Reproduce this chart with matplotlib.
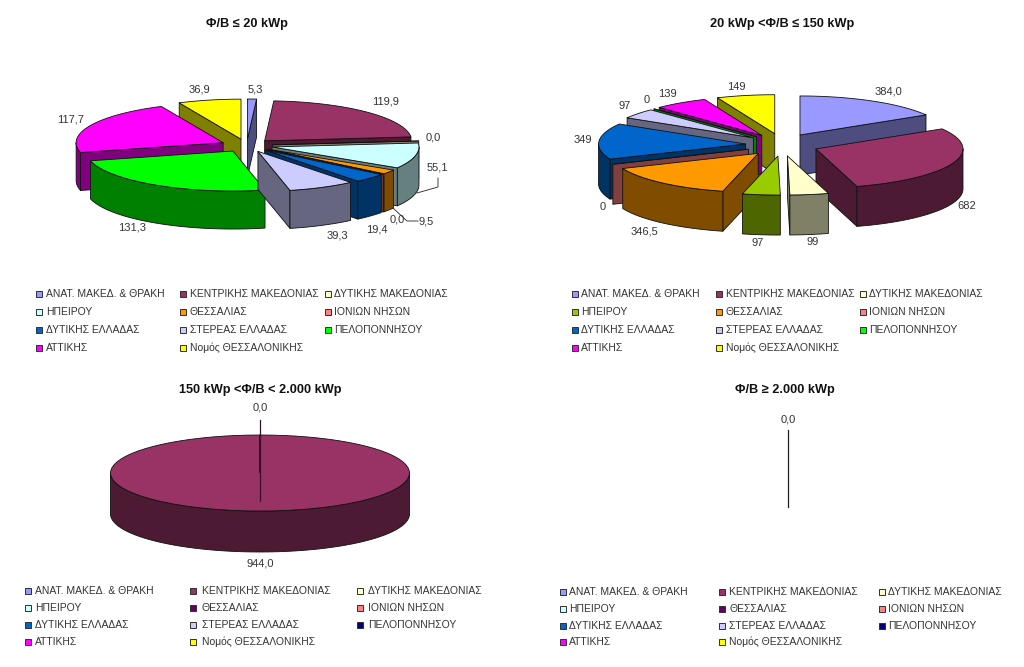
"""
Four exploded 3D pies of PV capacity per region, drawn on one pixel-sized axes
"""

import numpy as np
import matplotlib
matplotlib.use("Agg")
import matplotlib.pyplot as plt
from matplotlib.patches import Polygon

plt.rcParams['font.family'] = ['Liberation Sans', 'DejaVu Sans']

REGIONS = ["ΑΝΑΤ. ΜΑΚΕΔ. & ΘΡΑΚΗ", "ΚΕΝΤΡΙΚΗΣ ΜΑΚΕΔΟΝΙΑΣ", "ΔΥΤΙΚΗΣ ΜΑΚΕΔΟΝΙΑΣ",
           "ΗΠΕΙΡΟΥ", "ΘΕΣΣΑΛΙΑΣ", "ΙΟΝΙΩΝ ΝΗΣΩΝ",
           "ΔΥΤΙΚΗΣ ΕΛΛΑΔΑΣ", "ΣΤΕΡΕΑΣ ΕΛΛΑΔΑΣ", "ΠΕΛΟΠΟΝΝΗΣΟΥ",
           "ΑΤΤΙΚΗΣ", "Νομός ΘΕΣΣΑΛΟΝΙΚΗΣ"]

values_small = [5.3, 119.9, 0.0, 55.1, 9.5, 0.0, 19.4, 39.3, 131.3, 117.7, 36.9]
values_medium = [384.0, 682, 99, 97, 346.5, 0, 349, 97, 0, 139, 149]
values_large = [0, 944.0, 0, 0, 0, 0, 0, 0, 0, 0, 0]
values_huge = [0, 0, 0, 0, 0, 0, 0, 0, 0, 0, 0]

colors_small = ["#9999FF", "#993366", "#FFFFCC", "#CCFFFF", "#FF9900", "#FF8080",
                "#0066CC", "#CCCCFF", "#00FF00", "#FF00FF", "#FFFF00"]
colors_medium = ["#9999FF", "#993366", "#FFFFCC", "#99CC00", "#FF9900", "#FF8080",
                 "#0066CC", "#CCCCFF", "#00FF00", "#FF00FF", "#FFFF00"]
colors_large = ["#9999FF", "#993366", "#FFFFCC", "#CCFFFF", "#660066", "#FF8080",
                "#0066CC", "#CCCCFF", "#000080", "#FF00FF", "#FFFF00"]

titles = ["Φ/Β ≤ 20 kWp", "20 kWp <Φ/Β ≤ 150 kWp",
          "150 kWp <Φ/Β < 2.000 kWp", "Φ/Β ≥ 2.000 kWp"]

labels_small = [("36,9", 199, 89), ("5,3", 255, 89), ("119,9", 386, 101),
                ("0,0", 433, 138), ("55,1", 437, 167), ("9,5", 426, 221),
                ("0,0", 397, 219), ("19,4", 377, 229), ("39,3", 337, 235),
                ("131,3", 132, 228), ("117,7", 71, 120)]
labels_medium = [("384,0", 888, 92), ("682", 967, 206), ("99", 813, 242),
                 ("97", 758, 243), ("346,5", 644, 231), ("0", 603, 207),
                 ("349", 583, 140), ("97", 625, 106), ("0", 647, 100),
                 ("139", 667, 94), ("149", 736, 87)]
labels_large = [("0,0", 260, 408), ("944,0", 260, 563)]
labels_huge = [("0,0", 788, 419)]


def draw_pie(ax, values, colors, cx, cy, rx, ry, depth, dx=0.0, dy=0.0):
    """Draw one 3D pie, clockwise from 12 o'clock, back slices first."""
    total = sum(values)
    if total == 0:
        return
    edges = np.cumsum([0] + list(values)) / total * 2 * np.pi
    slices = []
    for i, color in enumerate(colors):
        slices.append((edges[i], edges[i + 1], color))
    slices.sort(key=lambda s: -np.cos((s[0] + s[1]) / 2))

    line = dict(edgecolor="#101010", linewidth=0.6, joinstyle="round")
    for start, end, color in slices:
        mid = (start + end) / 2
        x0 = cx + dx * np.sin(mid)
        y0 = cy - dy * np.cos(mid)
        side = tuple(c * 0.5 for c in matplotlib.colors.to_rgb(color))

        # radial walls, only those facing the viewer
        for angle, visible in ((start, np.sin(start) < -1e-6), (end, np.sin(end) > 1e-6)):
            if visible:
                px = x0 + rx * np.sin(angle)
                py = y0 - ry * np.cos(angle)
                ax.add_patch(Polygon([(x0, y0), (px, py), (px, py + depth), (x0, y0 + depth)],
                                     facecolor=side, **line))

        # outer wall, front half only
        lo, hi = max(start, np.pi / 2), min(end, 3 * np.pi / 2)
        if hi > lo:
            t = np.linspace(lo, hi, 60)
            ox = x0 + rx * np.sin(t)
            oy = y0 - ry * np.cos(t)
            pts = np.r_[np.c_[ox, oy], np.c_[ox, oy + depth][::-1]]
            ax.add_patch(Polygon(pts, facecolor=side, **line))

        t = np.linspace(start, end, 80)
        top = np.c_[x0 + rx * np.sin(t), y0 - ry * np.cos(t)]
        ax.add_patch(Polygon(np.r_[[(x0, y0)], top], facecolor=color, **line))


def draw_legend(ax, colors, swatch_x, text_x, rows):
    for i, (name, color) in enumerate(zip(REGIONS, colors)):
        col, row = i % 3, i // 3
        y = rows[row]
        ax.add_patch(plt.Rectangle((swatch_x[col] - 3.2, y - 3.2), 6.5, 6.5, facecolor=color,
                                   edgecolor="#303030", linewidth=0.7))
        ax.text(text_x[col], y, name, fontsize=7.5, color="#333333", va="center", ha="left")


def draw_labels(ax, labels):
    for text, x, y in labels:
        ax.text(x, y, text, fontsize=8, color="#333333", va="center", ha="center")


def main() -> None:
    fig = plt.figure(figsize=(10.24, 6.67), dpi=100)
    ax = fig.add_axes([0, 0, 1, 1])
    ax.set_xlim(0, 1024)
    ax.set_ylim(667, 0)
    ax.axis("off")

    draw_pie(ax, values_small, colors_small, 246.6, 145.5, 147, 40, 38, dx=26, dy=6.5)
    draw_pie(ax, values_medium, colors_medium, 782, 144.8, 147, 39, 40, dx=36.5, dy=11.3)
    draw_pie(ax, values_large, colors_large, 260, 473, 149.5, 38, 41)
    draw_pie(ax, values_huge, colors_large, 788, 473, 149.5, 38, 41)

    # leader lines
    ax.plot([417, 438, 438], [193, 187, 178], color="#222222", lw=0.6)
    ax.plot([393, 407, 418], [208, 221, 221], color="#222222", lw=0.6)
    ax.plot([260, 260], [420, 501], color="#3A1028", lw=0.9)
    ax.plot([788, 788], [430, 507], color="#222222", lw=0.9)

    draw_labels(ax, labels_small)
    draw_labels(ax, labels_medium)
    draw_labels(ax, labels_large)
    draw_labels(ax, labels_huge)

    for title, x, y in zip(titles, [247, 782, 260, 785], [24, 24, 390, 390]):
        ax.text(x, y, title, fontsize=9.2, fontweight="bold", color="#111111", ha="center", va="center")

    draw_legend(ax, colors_small, [39, 183, 328], [46, 190, 334], [294, 312, 330, 348])
    draw_legend(ax, colors_medium, [575, 719, 863], [581, 726, 869], [294, 312, 330, 348])
    draw_legend(ax, colors_large, [28, 193, 360], [35, 202, 368], [591, 608, 625, 642])
    draw_legend(ax, colors_large, [563, 722, 882], [569, 729, 888], [592, 609, 626, 642])

    fig.savefig("out.png", dpi=100)


if __name__ == "__main__":
    main()
